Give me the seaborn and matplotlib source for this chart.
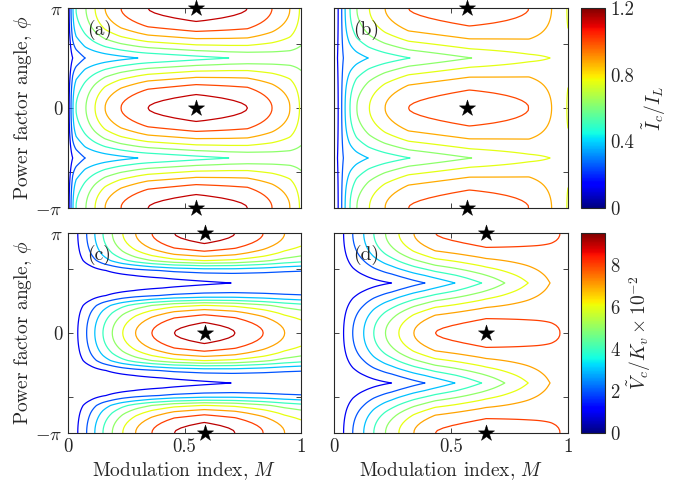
import numpy as np
import matplotlib
matplotlib.use("Agg")
import matplotlib.pyplot as plt
import seaborn as sns
from matplotlib.cm import ScalarMappable
from matplotlib.colors import Normalize

# ---------------- data ----------------
# Profiles of each quantity along phi = 0 (f0) and phi = +/- pi/2 (f90)
# (a) capacitor current, scheme 1
Ma0 = [0, 0.005, 0.013, 0.021, 0.034, 0.077, 0.116, 0.159, 0.227, 0.343, 0.55, 0.77, 0.876, 0.953, 1.0]
fa0 = [0, 0.125, 0.25, 0.375, 0.5, 0.625, 0.75, 0.875, 1.0, 1.125, 1.19, 1.125, 1.0, 0.875, 0.73]
Ma90 = [0, 0.02, 0.073, 0.30, 0.69, 1.0]
fa90 = [0, 0.125, 0.25, 0.375, 0.5, 0.56]
# (b) capacitor current, scheme 2
Mb0 = [0, 0.018, 0.033, 0.047, 0.068, 0.097, 0.151, 0.218, 0.318, 0.578, 0.833, 0.93, 0.995, 1.0]
fb0 = [0, 0.125, 0.25, 0.375, 0.5, 0.625, 0.75, 0.875, 1.0, 1.07, 1.0, 0.875, 0.75, 0.745]
Mb90 = [0, 0.015, 0.04, 0.146, 0.325, 0.588, 0.923, 1.0]
fb90 = [0, 0.125, 0.25, 0.375, 0.5, 0.625, 0.75, 0.77]
# (c) capacitor voltage, scheme 1 (x 1e-2)
Mc0 = [0, 0.042, 0.08, 0.115, 0.15, 0.19, 0.235, 0.29, 0.36, 0.456, 0.585, 0.717, 0.838, 0.93, 1.0]
fc0 = [0, 1, 2, 3, 4, 5, 6, 7, 8, 9, 9.52, 9, 8, 7, 6.5]
Mc90 = [0, 0.3, 0.7, 1.0]
fc90 = [0, 0.5, 1.0, 1.1]
# (d) capacitor voltage, scheme 2 (x 1e-2)
Md0 = [0, 0.041, 0.08, 0.127, 0.17, 0.22, 0.277, 0.341, 0.433, 0.65, 0.966, 1.0]
fd0 = [0, 1, 2, 3, 4, 5, 6, 7, 8, 8.5, 8, 7.9]
Md90 = [0, 0.246, 0.389, 0.517, 0.631, 0.73, 0.83, 0.923, 1.0]
fd90 = [0, 1, 2, 3, 4, 5, 6, 7, 7.6]

# angular weight between the phi=+/-pi/2 and phi=0 profiles, tabulated
# against |cos(phi)| (read from contour crossings)
cos_nodes = [0, 0.2, 0.383, 0.52, 0.65, 0.8, 1.0]
weight_a = [0, 0.2, 0.383, 0.52, 0.65, 0.8, 1.0]
weight_b = [0, 0.2, 0.383, 0.52, 0.65, 0.8, 1.0]
weight_c = [0, 0.06, 0.18, 0.37, 0.60, 0.78, 1.0]
weight_d = [0, 0.15, 0.32, 0.46, 0.60, 0.77, 1.0]

# locations of maxima (stars)
star_M = [0.55, 0.568, 0.588, 0.65]

levels_I = [0.125, 0.25, 0.375, 0.5, 0.625, 0.75, 0.875, 1.0, 1.125]
levels_V = [1, 2, 3, 4, 5, 6, 7, 8, 9]
vmax_I = 1.2
vmax_V = 9.52

panel_tags = ["(a)", "(b)", "(c)", "(d)"]

# ---------------- style ----------------
sns.set_style("ticks")
plt.rcParams["font.family"] = ["serif"]
plt.rcParams["font.serif"] = ["cmr10", "DejaVu Serif"]
plt.rcParams["mathtext.fontset"] = "cm"
plt.rcParams["axes.formatter.use_mathtext"] = True
plt.rcParams["axes.unicode_minus"] = False

cmap = matplotlib.colormaps["jet"]
edge = "#262626"
FS = 14

fig = plt.figure(figsize=(6.79, 4.88), dpi=100)
W, H = 679.0, 488.0
def rect(x0, y0, x1, y1):
    return [x0 / W, 1 - y1 / H, (x1 - x0) / W, (y1 - y0) / H]

ax_rects = [rect(68, 8, 301, 208), rect(334, 8, 568, 208),
            rect(68, 233, 301, 433), rect(334, 233, 568, 433)]
cb_rects = [rect(581, 8, 605, 208), rect(581, 233, 605, 433)]

M = np.linspace(0, 1, 201)
PHI = np.linspace(-np.pi, np.pi, 81)
MM, PP = np.meshgrid(M, PHI)

def field(m0, f0, m90, f90, wts):
    p0 = np.interp(MM, m0, f0)
    p90 = np.interp(MM, m90, f90)
    w = np.interp(np.abs(np.cos(PP)), cos_nodes, wts)
    return p90 + (p0 - p90) * w

profiles = [(Ma0, fa0, Ma90, fa90, weight_a), (Mb0, fb0, Mb90, fb90, weight_b),
            (Mc0, fc0, Mc90, fc90, weight_c), (Md0, fd0, Md90, fd90, weight_d)]

for i in range(4):
    ax = fig.add_axes(ax_rects[i])
    Z = field(*profiles[i])
    if i < 2:
        lev, vmax = levels_I, vmax_I
    else:
        lev, vmax = levels_V, vmax_V
    ax.contour(MM, PP, Z, levels=lev, cmap=cmap, vmin=0, vmax=vmax, linewidths=0.9)
    sns.scatterplot(x=[star_M[i]] * 3, y=[-np.pi, 0, np.pi], marker="*", s=150,
                    color="black", edgecolor="black", linewidth=0.3, ax=ax,
                    clip_on=False, zorder=5, legend=False)
    ax.set_xlim(0, 1)
    ax.set_ylim(-np.pi, np.pi)
    ax.set_xticks([0, 0.5, 1])
    ax.set_yticks([-np.pi, -2, 0, 2, np.pi])
    if i in (0, 2):
        ax.set_yticklabels([r"$-\pi$", "", "0", "", r"$\pi$"])
        ax.set_ylabel(r"Power factor angle, $\phi$", fontsize=FS, labelpad=1)
    else:
        ax.set_yticklabels([])
    if i >= 2:
        ax.set_xticklabels(["0", "0.5", "1"])
        ax.set_xlabel(r"Modulation index, $M$", fontsize=FS, labelpad=3)
    else:
        ax.set_xticklabels([])
    ax.tick_params(direction="in", length=3.5, width=0.6, top=True, right=True,
                   labelsize=FS - 0.5, colors=edge, pad=4)
    for sp in ax.spines.values():
        sp.set_color(edge)
        sp.set_linewidth(0.8)
    ax.text(0.083, 0.89, panel_tags[i], transform=ax.transAxes, fontsize=FS,
            ha="left", va="center", color=edge)

for j in range(2):
    cax = fig.add_axes(cb_rects[j])
    vmax = vmax_I if j == 0 else vmax_V
    sm = ScalarMappable(norm=Normalize(0, vmax), cmap=cmap)
    cb = fig.colorbar(sm, cax=cax)
    cb.outline.set_edgecolor(edge)
    cb.outline.set_linewidth(0.8)
    if j == 0:
        cb.set_ticks([0, 0.4, 0.8, 1.2])
        cb.set_ticklabels(["0", "0.4", "0.8", "1.2"])
        cb.set_label(r"$\tilde{I}_c/I_L$", fontsize=FS, labelpad=4)
    else:
        cb.set_ticks([0, 2, 4, 6, 8])
        cb.set_ticklabels(["0", "2", "4", "6", "8"])
        cb.set_label(r"$\tilde{V}_c/K_v\times10^{-2}$", fontsize=FS, labelpad=4)
    cax.tick_params(direction="in", length=3, width=0.6, labelsize=FS - 0.5, colors=edge, pad=4)

fig.savefig("out.png", dpi=100)
